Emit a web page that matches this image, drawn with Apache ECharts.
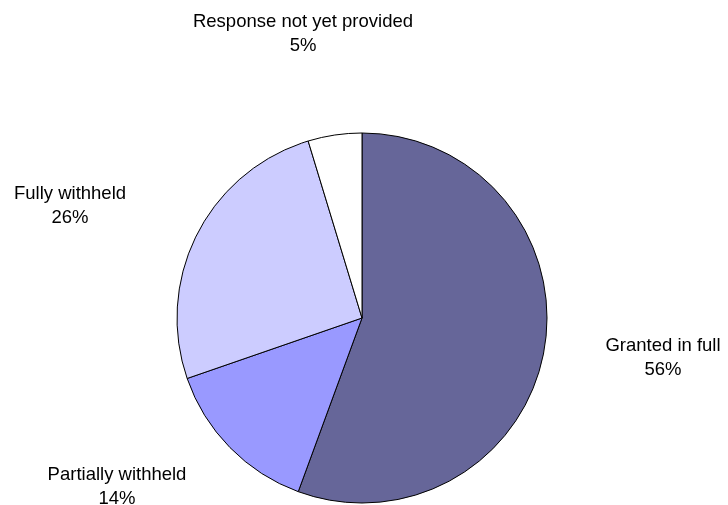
<!DOCTYPE html>
<html>
<head>
<meta charset="utf-8">
<script src="https://cdn.jsdelivr.net/npm/echarts@6/dist/echarts.min.js"></script>
<style>
html,body{margin:0;padding:0;background:#fff;}
#chart{width:728px;height:505px;}
</style>
</head>
<body>
<div id="chart"></div>
<script>
// Data
const categories = ['Granted in full', 'Partially withheld', 'Fully withheld', 'Response not yet provided'];
const values = [55.6, 14.1, 25.6, 4.7];
const colors = ['#666699', '#9999FF', '#CCCCFF', '#FFFFFF'];

// Layout (label centers relative to pie center, px)
const CENTER = [362, 318];
const RADIUS = 185;
const labelOffsets = [[301, 40], [-245, 169], [-292, -112], [-59, -284]];

const chart = echarts.init(document.getElementById('chart'), null, {renderer: 'canvas'});
chart.setOption({
  animation: false,
  backgroundColor: '#ffffff',
  series: [{
    type: 'pie',
    center: CENTER,
    radius: RADIUS,
    startAngle: 90,
    clockwise: true,
    avoidLabelOverlap: false,
    silent: true,
    data: categories.map((c, i) => ({
      name: c,
      value: values[i],
      itemStyle: {color: colors[i]}
    })),
    itemStyle: {borderColor: '#000000', borderWidth: 1},
    label: {
      show: true,
      position: 'outside',
      color: '#000000',
      fontFamily: '"Liberation Sans", Arial, sans-serif',
      fontSize: 18.5,
      lineHeight: 24.5,
      align: 'center',
      formatter: p => p.name + '\n' + Math.round(p.percent) + '%'
    },
    labelLine: {show: false},
    labelLayout: function (params) {
      const o = labelOffsets[params.dataIndex];
      return {
        x: CENTER[0] + o[0],
        y: CENTER[1] + o[1],
        align: 'center',
        verticalAlign: 'middle'
      };
    },
    emphasis: {disabled: true}
  }]
});
</script>
</body>
</html>
